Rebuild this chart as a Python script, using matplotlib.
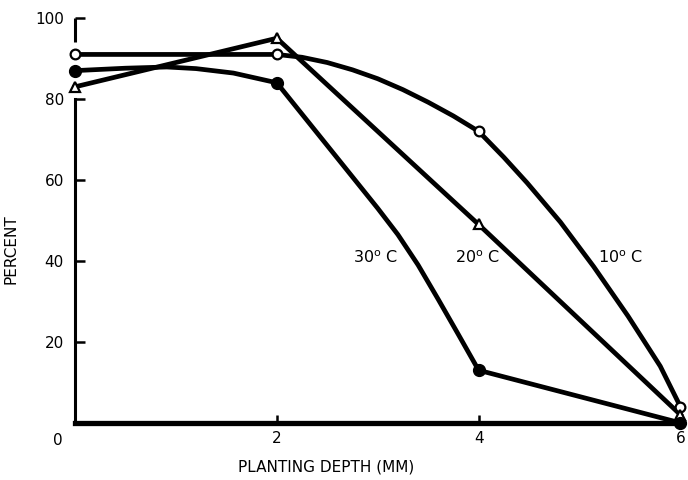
import matplotlib
matplotlib.use("Agg")
import matplotlib.pyplot as plt

plt.rcParams['font.family'] = ['Liberation Sans Narrow', 'DejaVu Sans']
plt.rcParams['mathtext.fontset'] = 'custom'
plt.rcParams['mathtext.rm'] = 'Liberation Sans Narrow'

# measured points (planting depth in mm, percent)
depth = [0, 2, 4, 6]
pct_10 = [91, 91, 72, 4]
pct_20 = [83, 95, 49, 2]
pct_30 = [87, 84, 13, 0]

# hand-drawn curves
curve_10_x = [0, 2, 2.25, 2.5, 2.75, 3.0, 3.25, 3.5, 3.75, 4,
              4.25, 4.48, 4.81, 5.14, 5.48, 5.8, 6]
curve_10_y = [91, 91, 90.3, 89.0, 87.2, 85.0, 82.3, 79.2, 75.8, 72,
              65.6, 59.3, 49.6, 38.6, 26.4, 14.0, 4]
curve_30_x = [0, 0.5, 0.91, 1.2, 1.57, 2, 2.5, 3.0, 3.2, 3.4, 3.6, 3.8, 4, 6]
curve_30_y = [87, 87.6, 87.9, 87.5, 86.4, 84, 68.5, 53, 46.5, 39, 30.5, 21.8, 13, 0]

labels = ['30', '20', '10']
label_x = [2.76, 3.77, 5.18]
label_y = 40.7

fig = plt.figure(figsize=(6.88, 4.8), dpi=100)
ax = fig.add_axes([0.109, 0.119, 0.88, 0.8435])

lw = 3.4
style = dict(color='black', lw=lw, clip_on=False, zorder=3, solid_joinstyle='round')
ax.plot(curve_10_x, curve_10_y, **style)
ax.plot(depth, pct_20, **style)
ax.plot(curve_30_x, curve_30_y, **style)

ax.plot(depth, pct_10, 'o', ms=7, mfc='white', mec='black', mew=1.6, clip_on=False, zorder=5)
ax.plot(depth, pct_20, '^', ms=7.5, mfc='white', mec='black', mew=1.6, clip_on=False, zorder=5)
ax.plot(depth, pct_30, 'o', ms=8.5, mfc='black', mec='black', clip_on=False, zorder=5)

for lab, lx in zip(labels, label_x):
    ax.text(lx, label_y, lab + r'$^{\mathrm{o}}$ C', fontsize=11.5, va='center', ha='left')

ax.set_xlim(0, 6)
ax.set_ylim(0, 100)

for side in ['top', 'right']:
    ax.spines[side].set_visible(False)
ax.spines['bottom'].set_linewidth(3.8)
ax.spines['left'].set_linewidth(2.2)
ax.spines['left'].set_bounds(0, 80)
ax.plot([0, 0], [94, 100], color='black', lw=2.2, clip_on=False, solid_capstyle='butt')

ax.set_yticks([20, 40, 60, 80, 100])
ax.set_xticks([2, 4, 6])
ax.tick_params(axis='y', direction='in', length=7, width=1.8, pad=8, labelsize=11)
ax.tick_params(axis='x', direction='in', length=6, width=1.8, pad=6, labelsize=11)
ax.text(-0.17, -2.5, '0', fontsize=11, ha='center', va='top', clip_on=False)

ax.set_ylabel('PERCENT', fontsize=11)
ax.yaxis.set_label_coords(-0.094, 0.43)
ax.set_xlabel('PLANTING DEPTH (MM)', fontsize=11)
ax.xaxis.set_label_coords(0.415, -0.09)

fig.savefig('out.png', dpi=100)
